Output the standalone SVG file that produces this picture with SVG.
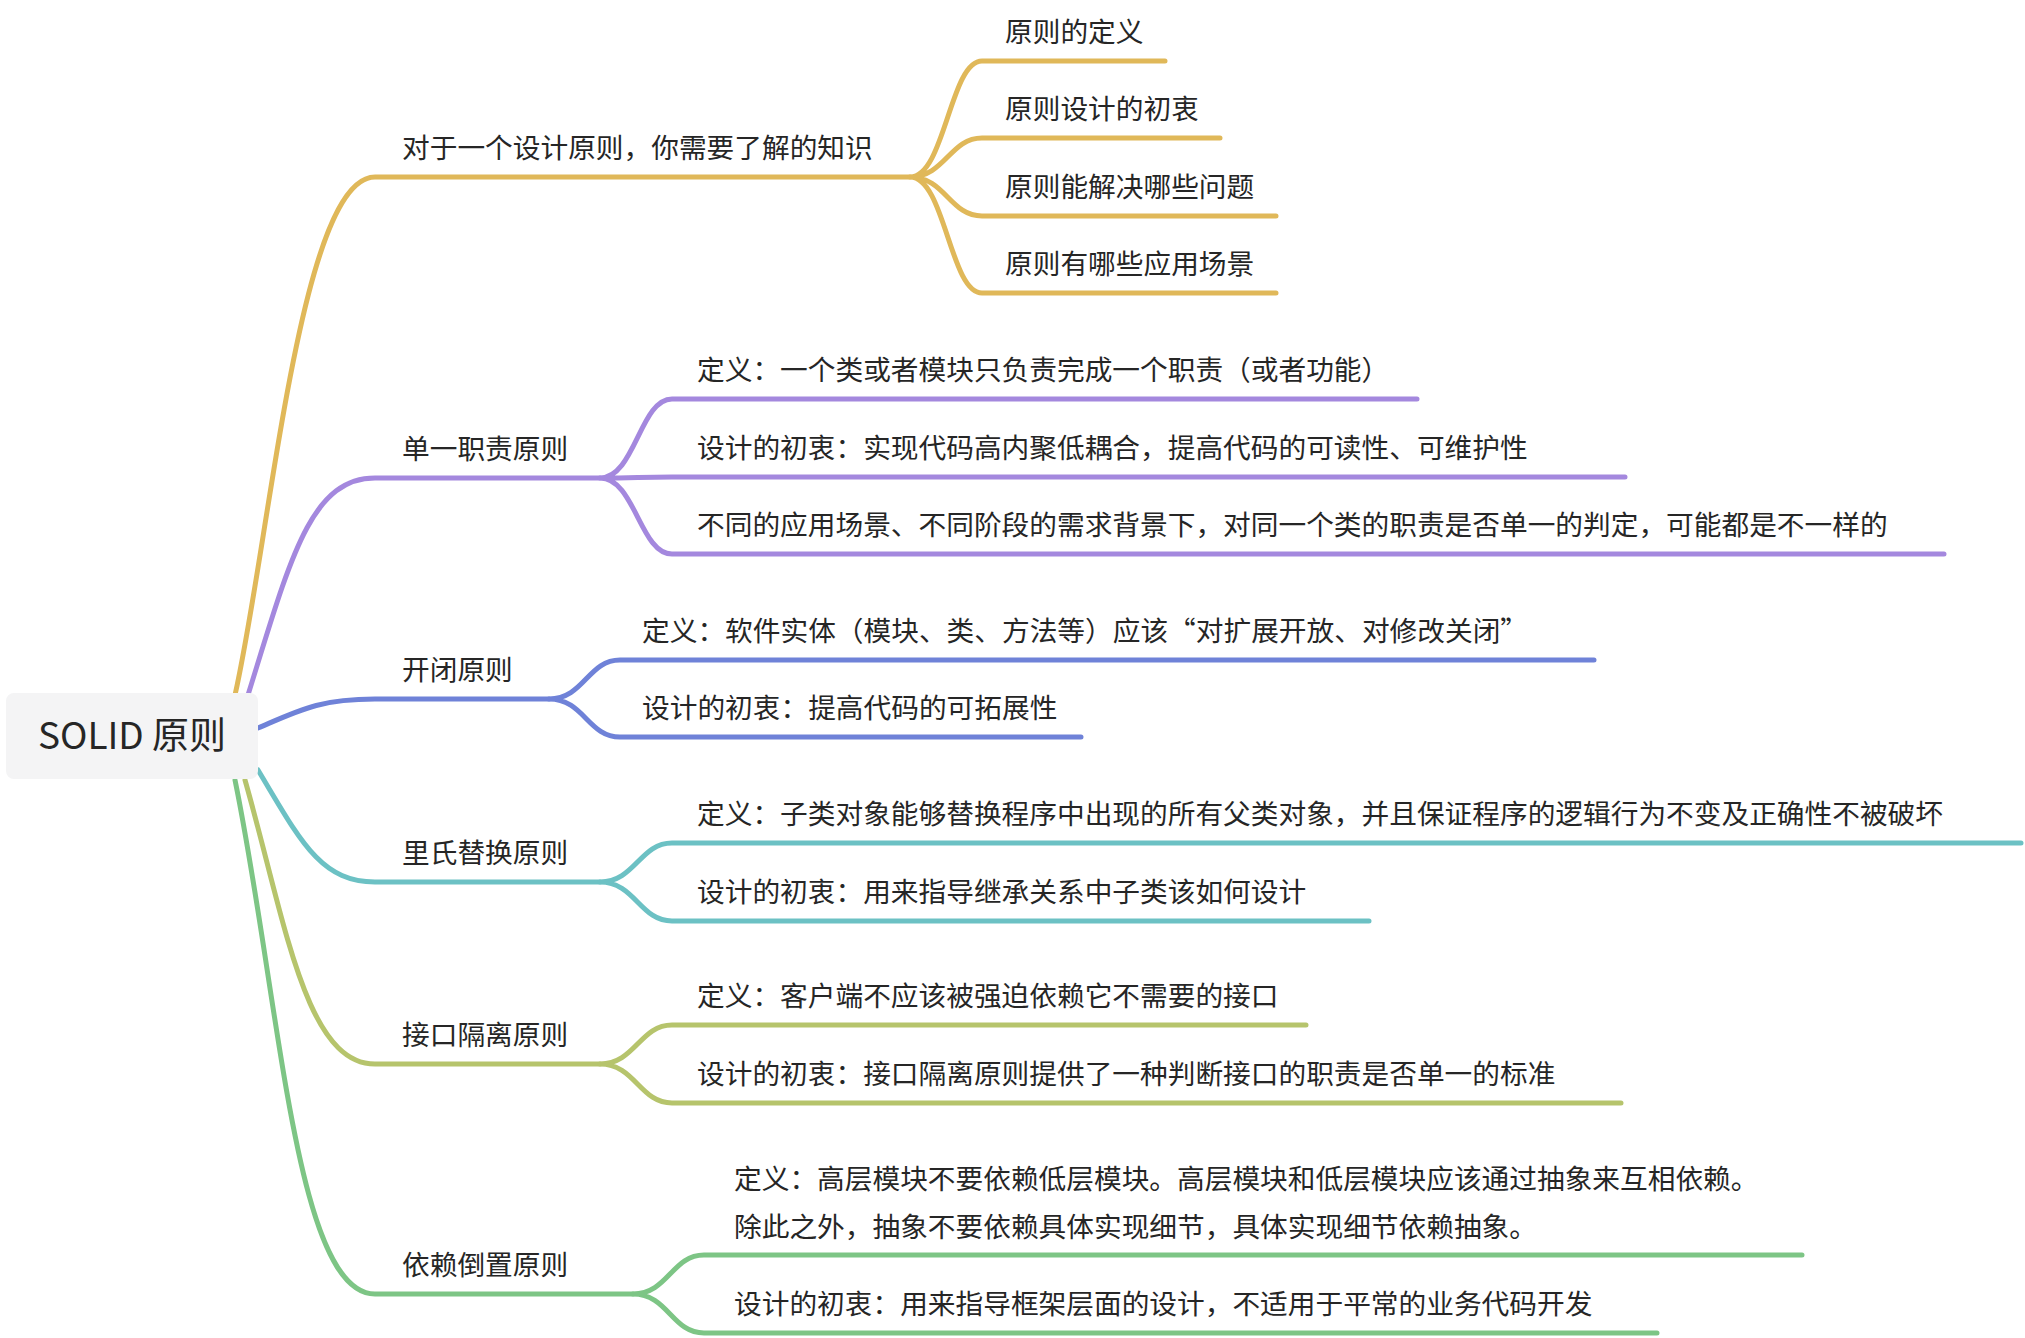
<svg xmlns="http://www.w3.org/2000/svg" width="2025" height="1338" viewBox="0 0 2025 1338">
<style>
text{font-family:"Noto Sans CJK SC","Liberation Sans",sans-serif;font-size:27.7px;fill:#262626}
text.root{font-size:37px}
path{fill:none;stroke-width:5;stroke-linecap:round}
.g{stroke:#E0B859}.p{stroke:#A488DE}.b{stroke:#6F82D8}.t{stroke:#6CC1C4}.o{stroke:#B6C46C}.n{stroke:#7DC585}
</style>
<rect width="2025" height="1338" fill="#fff"/>
<g id="connectors">
<path class="g" d="M235,695 C270,540 300,177 375,177 L910,177"/>
<path class="g" d="M910,177 C945,177 950,61 982,61 L1165,61 M910,177 C945,177 950,138 982,138 L1220,138 M910,177 C945,177 950,216 982,216 L1276,216 M910,177 C945,177 950,293 982,293 L1276,293"/>
<path class="p" d="M248,695 C290,560 310,478 375,478 L600,478"/>
<path class="p" d="M600,478 C635,478 640,399 672,399 L1417,399 M600,478 C635,478 640,477 672,477 L1625,477 M600,478 C635,478 640,554 672,554 L1944,554"/>
<path class="b" d="M258,728 C300,710 320,699 375,699 L549,699"/>
<path class="b" d="M549,699 C584,699 588,660 620,660 L1594,660 M549,699 C584,699 588,737 620,737 L1081,737"/>
<path class="t" d="M258,770 C300,840 320,882 375,882 L600,882"/>
<path class="t" d="M600,882 C635,882 640,843 672,843 L2021,843 M600,882 C635,882 640,921 672,921 L1369,921"/>
<path class="o" d="M245,780 C285,920 305,1064 375,1064 L600,1064"/>
<path class="o" d="M600,1064 C635,1064 640,1025 672,1025 L1306,1025 M600,1064 C635,1064 640,1103 672,1103 L1621,1103"/>
<path class="n" d="M235,780 C280,1000 295,1294 375,1294 L633,1294"/>
<path class="n" d="M633,1294 C668,1294 672,1255 704,1255 L1802,1255 M633,1294 C668,1294 672,1333 704,1333 L1657,1333"/>
</g>
<g id="root"><rect x="6" y="693" width="252" height="86" rx="8" fill="#F4F4F5"/><text class="root" x="132" y="749" text-anchor="middle">SOLID 原则</text></g>
<g id="b1"><text x="402" y="158">对于一个设计原则，你需要了解的知识</text></g>
<g id="b1c"><text x="1005" y="42">原则的定义</text><text x="1005" y="119">原则设计的初衷</text><text x="1005" y="197">原则能解决哪些问题</text><text x="1005" y="274">原则有哪些应用场景</text></g>
<g id="b2"><text x="402" y="459">单一职责原则</text></g>
<g id="b2c"><text x="697" y="380">定义：一个类或者模块只负责完成一个职责（或者功能）</text><text x="697" y="458">设计的初衷：实现代码高内聚低耦合，提高代码的可读性、可维护性</text><text x="697" y="535">不同的应用场景、不同阶段的需求背景下，对同一个类的职责是否单一的判定，可能都是不一样的</text></g>
<g id="b3"><text x="402" y="680">开闭原则</text></g>
<g id="b3c"><text x="642" y="641">定义：软件实体（模块、类、方法等）应该“对扩展开放、对修改关闭”</text><text x="642" y="718">设计的初衷：提高代码的可拓展性</text></g>
<g id="b4"><text x="402" y="863">里氏替换原则</text></g>
<g id="b4c"><text x="697" y="824">定义：子类对象能够替换程序中出现的所有父类对象，并且保证程序的逻辑行为不变及正确性不被破坏</text><text x="697" y="902">设计的初衷：用来指导继承关系中子类该如何设计</text></g>
<g id="b5"><text x="402" y="1045">接口隔离原则</text></g>
<g id="b5c"><text x="697" y="1006">定义：客户端不应该被强迫依赖它不需要的接口</text><text x="697" y="1084">设计的初衷：接口隔离原则提供了一种判断接口的职责是否单一的标准</text></g>
<g id="b6"><text x="402" y="1275">依赖倒置原则</text></g>
<g id="b6c"><text x="734" y="1189">定义：高层模块不要依赖低层模块。高层模块和低层模块应该通过抽象来互相依赖。</text><text x="734" y="1237">除此之外，抽象不要依赖具体实现细节，具体实现细节依赖抽象。</text><text x="734" y="1314">设计的初衷：用来指导框架层面的设计，不适用于平常的业务代码开发</text></g>
</svg>
